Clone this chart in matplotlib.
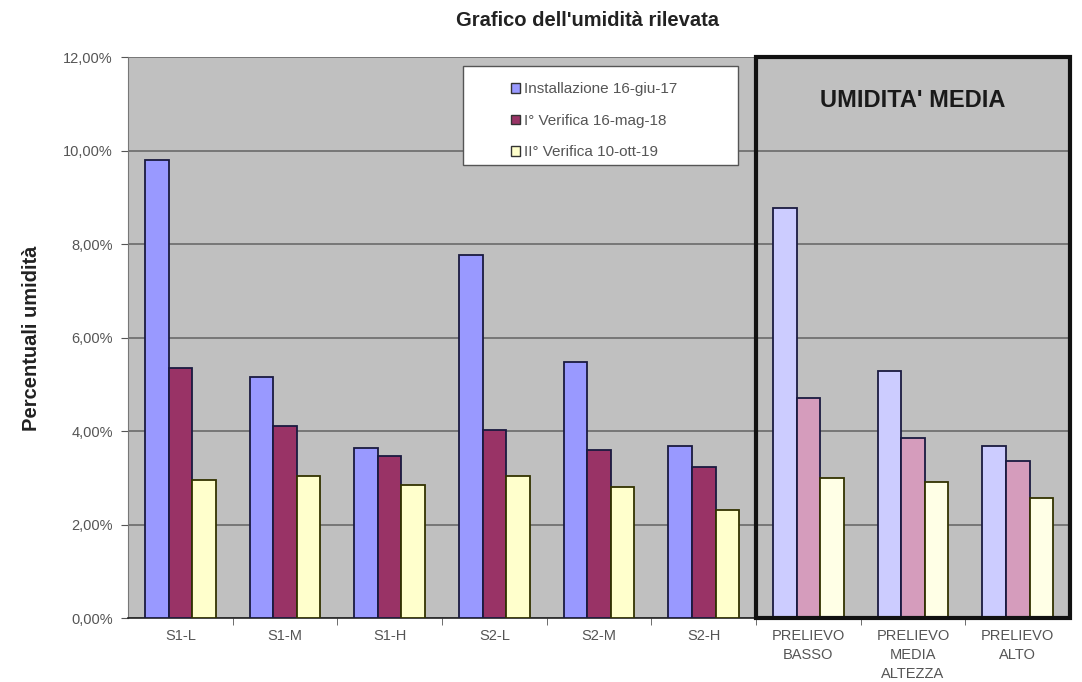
import matplotlib.pyplot as plt
import numpy as np
from matplotlib.patches import Patch, Rectangle
from matplotlib.ticker import FuncFormatter

plt.rcParams['font.family'] = ['Liberation Sans', 'DejaVu Sans']

categories = ['S1-L', 'S1-M', 'S1-H', 'S2-L', 'S2-M', 'S2-H',
              'PRELIEVO\nBASSO', 'PRELIEVO\nMEDIA\nALTEZZA', 'PRELIEVO\nALTO']
installazione = [9.80, 5.15, 3.63, 7.76, 5.47, 3.68, 8.77, 5.29, 3.67]
verifica_1 = [5.35, 4.11, 3.47, 4.02, 3.59, 3.24, 4.71, 3.86, 3.36]
verifica_2 = [2.95, 3.04, 2.84, 3.04, 2.81, 2.31, 3.00, 2.92, 2.57]
series_names = ['Installazione 16-giu-17', 'I° Verifica 16-mag-18', 'II° Verifica 10-ott-19']

# the last three groups are averages, drawn in paler shades
dark = ['#9999ff', '#993366', '#ffffcc']
pale = ['#ccccff', '#d59cbc', '#ffffe6']
n_single = 6

fig = plt.figure(figsize=(10.82, 6.82), dpi=100)
ax = fig.add_axes([0.1183, 0.0938, 0.8707, 0.8226])
ax.set_facecolor('#c0c0c0')

x = np.arange(len(categories))
w = 0.225
for k, vals in enumerate([installazione, verifica_1, verifica_2]):
    colors = [dark[k]] * n_single + [pale[k]] * (len(categories) - n_single)
    ax.bar(x + (k - 1) * w, vals, w, color=colors, edgecolor='#1a1a40' if k < 2 else '#333300',
           linewidth=1.3, zorder=3)

ax.set_xlim(-0.5, len(categories) - 0.5)
ax.set_ylim(0, 12)
ax.set_yticks(np.arange(0, 12.1, 2))
ax.yaxis.set_major_formatter(FuncFormatter(lambda v, p: f'{v:.2f}%'.replace('.', ',')))
ax.yaxis.grid(True, color='#6a6a6a', linewidth=1.2, zorder=0)
ax.set_axisbelow(True)

ax.set_xticks(x)
ax.set_xticklabels(categories, fontsize=10.5, color='#555555', linespacing=1.45)
ax.set_xticks(x[:-1] + 0.5, minor=True)
ax.tick_params(axis='x', which='major', length=0, pad=8)
ax.tick_params(axis='x', which='minor', length=5, color='#555555')
ax.tick_params(axis='y', length=5, color='#555555', labelsize=10.5, labelcolor='#555555', pad=6)

for side in ['top', 'right']:
    ax.spines[side].set_visible(False)
ax.spines['left'].set_color('#777777')
ax.spines['bottom'].set_color('#222222')
ax.spines['bottom'].set_linewidth(1.2)

# frame around the averaged samples
ax.add_patch(Rectangle((n_single - 0.5, 0), len(categories) - n_single, 12, fill=False,
                       edgecolor='#111111', linewidth=3, zorder=5, clip_on=False))
ax.text(7, 11.06, "UMIDITA' MEDIA", ha='center', va='center', fontsize=17,
        fontweight='bold', color='#1a1a1a', zorder=6)

fig.text(587 / 1082, 1 - 20 / 682, "Grafico dell'umidità rilevata", ha='center', va='center',
         fontsize=14.5, fontweight='bold', color='#222222')
fig.text(32 / 1082, 1 - 338 / 682, 'Percentuali umidità', ha='center', va='center',
         rotation=90, fontsize=14.5, fontweight='bold', color='#222222')

# legend box
fig.patches.append(Rectangle((463 / 1082, 1 - 165 / 682), 275 / 1082, 99 / 682,
                             transform=fig.transFigure, facecolor='white', edgecolor='#555555',
                             linewidth=1, zorder=10))
handles = [Patch(facecolor=dark[k], edgecolor='#333333', linewidth=1) for k in range(3)]
leg = fig.legend(handles, series_names, loc='upper left',
                 bbox_to_anchor=(499 / 1082, 1 - 70 / 682), frameon=False, fontsize=11,
                 handlelength=0.6, handleheight=0.6, handletextpad=0.25, labelspacing=1.15,
                 borderpad=0.3, labelcolor='#555555')
leg.set_zorder(11)

fig.savefig('out.png', dpi=100)
